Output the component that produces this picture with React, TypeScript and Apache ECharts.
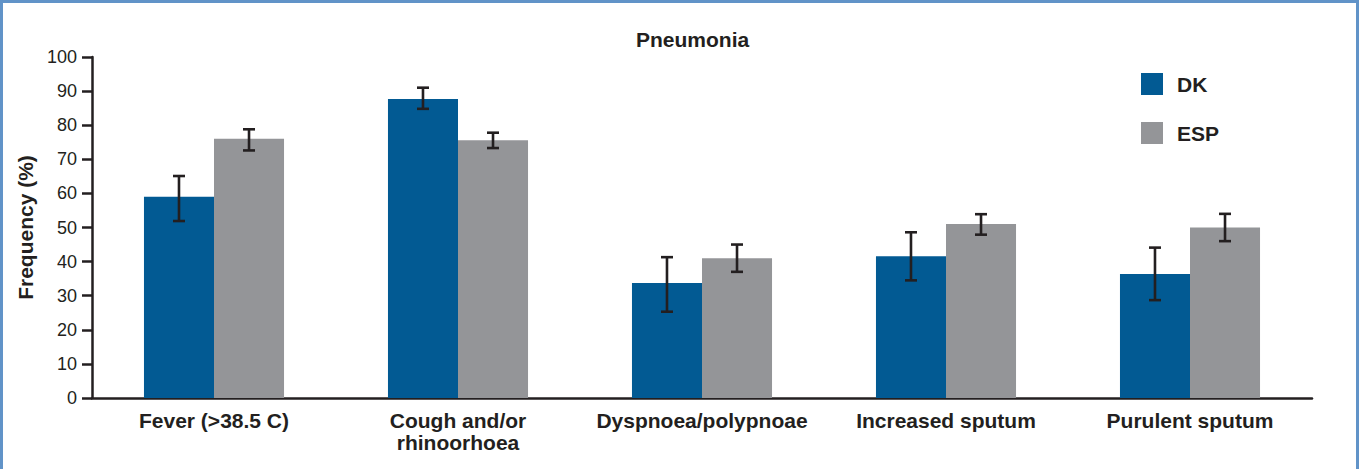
import React, { useEffect, useRef } from "react";
import * as echarts from "echarts";

const categories = [
  "Fever (>38.5 C)",
  "Cough and/or\nrhinoorhoea",
  "Dyspnoea/polypnoae",
  "Increased sputum",
  "Purulent sputum",
];
const dkValues = [59, 87.7, 33.7, 41.6, 36.4];
const dkLow = [51.9, 84.8, 25.3, 34.5, 28.7];
const dkHigh = [65.1, 91.0, 41.3, 48.6, 44.1];
const espValues = [76, 75.6, 41, 51, 50];
const espLow = [72.6, 73.3, 37, 47.9, 46];
const espHigh = [78.8, 77.8, 45, 53.9, 54];
const yTicks = [0, 10, 20, 30, 40, 50, 60, 70, 80, 90, 100];

const FONT = "'Liberation Sans', Arial, sans-serif";
const DARK = "#231f20";
const DK_COLOR = "#025a93";
const ESP_COLOR = "#949598";
const BAR_FRAC = 0.287;

function errorSeries(name: string, low: number[], high: number[], side: number) {
  return {
    type: "custom",
    name,
    data: categories.map((_, i) => [i, low[i], high[i]]),
    encode: { x: 0, y: [1, 2] },
    z: 5,
    silent: true,
    renderItem: (params: any, api: any) => {
      const i = api.value(0);
      const lo = api.coord([i, api.value(1)]);
      const hi = api.coord([i, api.value(2)]);
      const band = api.size([1, 0])[0];
      const x = lo[0] + side * band * BAR_FRAC / 2;
      const cap = 6;
      const style = { stroke: DARK, lineWidth: 2.6 };
      return {
        type: "group",
        children: [
          { type: "line", shape: { x1: x, y1: lo[1], x2: x, y2: hi[1] }, style },
          { type: "line", shape: { x1: x - cap, y1: lo[1], x2: x + cap, y2: lo[1] }, style },
          { type: "line", shape: { x1: x - cap, y1: hi[1], x2: x + cap, y2: hi[1] }, style },
        ],
      };
    },
  };
}

export default function App() {
  const ref = useRef<HTMLDivElement>(null);
  useEffect(() => {
    if (!ref.current) return;
    const chart = echarts.init(ref.current, undefined, { renderer: "svg" });
    chart.setOption({
      animation: false,
      backgroundColor: "#ffffff",
      title: {
        text: "Pneumonia",
        left: 636,
        top: 29,
        padding: 0,
        textStyle: { fontFamily: FONT, fontWeight: "bold", fontSize: 21, color: DARK },
      },
      legend: {
        data: ["DK", "ESP"],
        orient: "vertical",
        left: 1141,
        top: 73,
        padding: 0,
        itemWidth: 22,
        itemHeight: 22,
        itemGap: 27,
        icon: "rect",
        selectedMode: false,
        textStyle: {
          fontFamily: FONT,
          fontWeight: "bold",
          fontSize: 21,
          color: DARK,
          padding: [0, 0, 0, 9],
        },
      },
      grid: { left: 92, right: 50, top: 57, bottom: 71, containLabel: false },
      xAxis: {
        type: "category",
        data: categories,
        axisLine: { show: true, lineStyle: { color: DARK, width: 2.5 } },
        axisTick: { show: false },
        axisLabel: {
          interval: 0,
          margin: 11,
          fontFamily: FONT,
          fontWeight: "bold",
          fontSize: 21,
          lineHeight: 22,
          color: DARK,
        },
        splitLine: { show: false },
      },
      yAxis: {
        type: "value",
        min: yTicks[0],
        max: yTicks[yTicks.length - 1],
        interval: 10,
        name: "Frequency (%)",
        nameLocation: "middle",
        nameRotate: 90,
        nameGap: 55,
        nameTextStyle: { fontFamily: FONT, fontWeight: "bold", fontSize: 21, color: DARK },
        axisLine: { show: true, lineStyle: { color: DARK, width: 2.5 } },
        axisTick: { show: true, inside: false, length: 10, lineStyle: { color: DARK, width: 2.5 } },
        axisLabel: { margin: 15, fontFamily: FONT, fontSize: 18, color: DARK },
        splitLine: { show: false },
      },
      series: [
        {
          type: "bar",
          name: "DK",
          data: dkValues,
          barWidth: "28.7%",
          barGap: "0%",
          itemStyle: { color: DK_COLOR },
        },
        {
          type: "bar",
          name: "ESP",
          data: espValues,
          barWidth: "28.7%",
          barGap: "0%",
          itemStyle: { color: ESP_COLOR },
        },
        errorSeries("DK error", dkLow, dkHigh, -1),
        errorSeries("ESP error", espLow, espHigh, 1),
      ],
    });
    return () => chart.dispose();
  }, []);

  return (
    <div style={{ position: "fixed", left: 0, top: 0, width: 1362, height: 469, background: "#fff" }}>
      <div ref={ref} style={{ position: "absolute", left: 0, top: 0, width: 1362, height: 469 }} />
      <div
        style={{
          position: "absolute",
          left: 0,
          top: 0,
          width: 1359,
          height: 472,
          boxSizing: "border-box",
          borderTop: "3px solid #6193c8",
          borderLeft: "3px solid #6193c8",
          borderRight: "3px solid #6193c8",
          pointerEvents: "none",
        }}
      />
    </div>
  );
}
